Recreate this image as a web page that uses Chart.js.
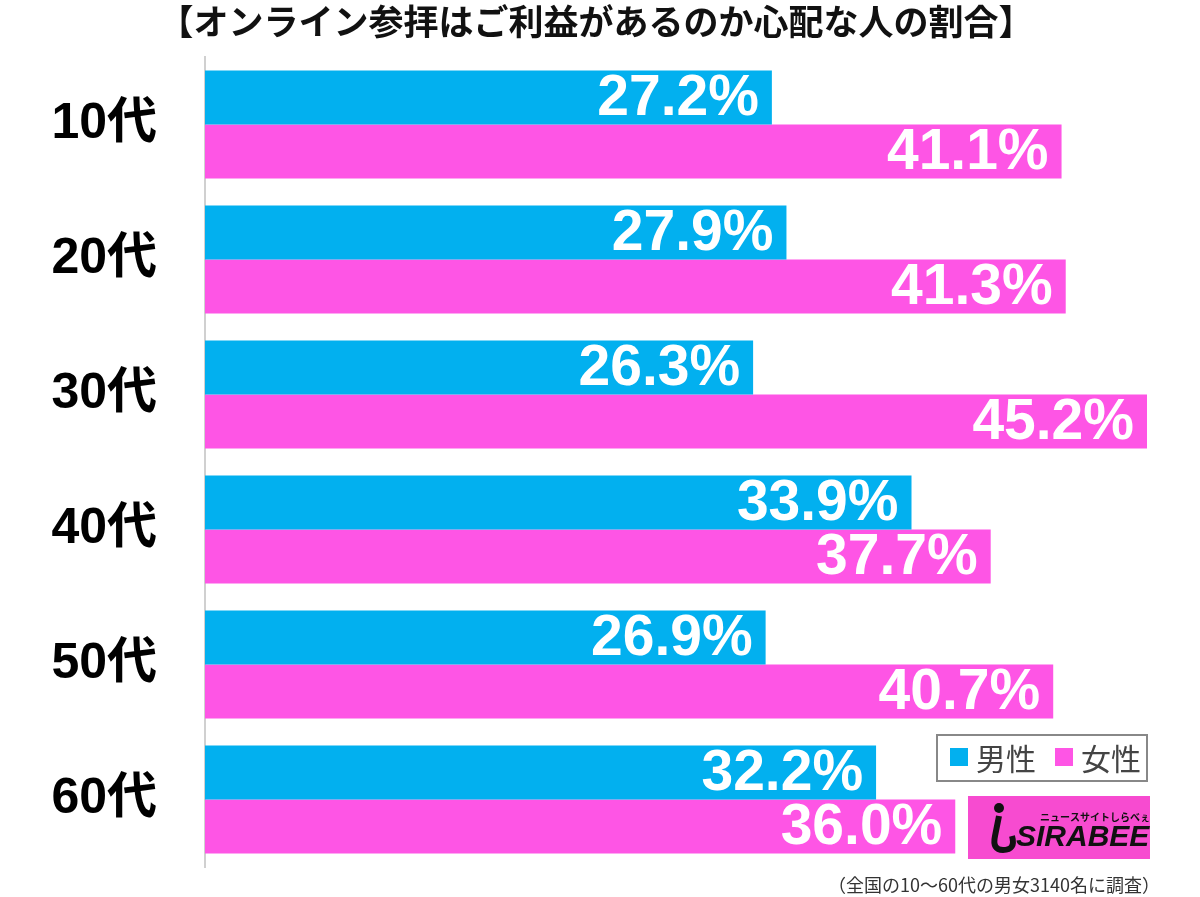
<!DOCTYPE html>
<html>
<head>
<meta charset="utf-8">
<script src="https://cdn.jsdelivr.net/npm/chart.js@4"></script>
<style>
  html, body { margin: 0; padding: 0; background: #fff; }
  #wrap { width: 1200px; height: 897px; position: relative; }
</style>
</head>
<body>
<div id="wrap"><canvas id="chart" width="1200" height="897"></canvas></div>
<script>
const categories = ['10代', '20代', '30代', '40代', '50代', '60代'];
const maleValues = [27.2, 27.9, 26.3, 33.9, 26.9, 32.2];
const femaleValues = [41.1, 41.3, 45.2, 37.7, 40.7, 36.0];
const seriesNames = ['男性', '女性'];
const titleText = '【オンライン参拝はご利益があるのか心配な人の割合】';
const noteText = '（全国の10〜60代の男女3140名に調査）';

const BLUE = '#02b0ef';
const PINK = '#fe55e5';
const JP = '"Noto Sans CJK JP", "Noto Sans", sans-serif';
const NUM = '"Liberation Sans", "Noto Sans CJK JP", sans-serif';

// 棒の上の数値と、タイトル・凡例・ロゴ・注記
const decorPlugin = {
  id: 'decor',
  afterDatasetsDraw(chart) {
    const ctx = chart.ctx;
    ctx.save();
    ctx.fillStyle = '#fff';
    ctx.font = 'bold 57px ' + NUM;
    ctx.textAlign = 'right';
    ctx.textBaseline = 'middle';
    chart.data.datasets.forEach((ds, i) => {
      chart.getDatasetMeta(i).data.forEach((bar, j) => {
        ctx.fillText(ds.data[j].toFixed(1) + '%', bar.x - 13, bar.y + 2);
      });
    });
    ctx.restore();
  },
  afterDraw(chart) {
    const ctx = chart.ctx;
    ctx.save();
    // タイトル
    ctx.fillStyle = '#111';
    ctx.font = 'bold 35px ' + JP;
    ctx.textAlign = 'center';
    ctx.textBaseline = 'middle';
    ctx.fillText(titleText, 596, 22);

    // 凡例
    ctx.strokeStyle = '#888';
    ctx.lineWidth = 2;
    ctx.strokeRect(937, 735, 210, 46);
    ctx.fillStyle = BLUE;
    ctx.fillRect(950, 748, 18, 18);
    ctx.fillStyle = PINK;
    ctx.fillRect(1055, 748, 18, 18);
    ctx.fillStyle = '#444';
    ctx.font = '30px ' + JP;
    ctx.textAlign = 'left';
    ctx.fillText(seriesNames[0], 976, 759);
    ctx.fillText(seriesNames[1], 1081, 759);

    // ロゴ
    ctx.fillStyle = '#f74bd0';
    ctx.fillRect(968, 796, 182, 63);
    ctx.fillStyle = '#111';
    ctx.beginPath();
    ctx.arc(999, 808, 5, 0, Math.PI * 2);
    ctx.fill();
    ctx.lineWidth = 6;
    ctx.strokeStyle = '#111';
    ctx.beginPath();
    ctx.moveTo(999, 816);
    ctx.lineTo(995, 836);
    ctx.quadraticCurveTo(992, 850, 1003, 850);
    ctx.quadraticCurveTo(1016, 850, 1012, 836);
    ctx.stroke();
    ctx.font = 'italic bold 30px ' + NUM;
    ctx.textAlign = 'left';
    ctx.fillText('SIRABEE', 1016, 838);
    ctx.font = 'bold 10px ' + JP;
    ctx.fillText('ニュースサイトしらべぇ', 1040, 817);

    // 注記
    ctx.fillStyle = '#333';
    ctx.font = '18px ' + JP;
    ctx.textAlign = 'right';
    ctx.fillText(noteText, 1160, 885);
    ctx.restore();
  }
};

new Chart(document.getElementById('chart'), {
  type: 'bar',
  data: {
    labels: categories,
    datasets: [
      { label: seriesNames[0], data: maleValues, backgroundColor: BLUE },
      { label: seriesNames[1], data: femaleValues, backgroundColor: PINK }
    ]
  },
  options: {
    indexAxis: 'y',
    responsive: false,
    animation: false,
    categoryPercentage: 0.8,
    barPercentage: 1.0,
    layout: { padding: { top: 57, bottom: 30, right: 53, left: 0 } },
    plugins: {
      legend: { display: false },
      title: { display: false },
      tooltip: { enabled: false }
    },
    scales: {
      x: { display: false, min: 0, max: 45.2 },
      y: {
        afterFit: (scale) => {
          scale.width = 205;
          scale.paddingTop = 0;
          scale.paddingBottom = 0;
        },
        grid: { display: false, drawTicks: false },
        border: { display: true, color: '#d0d0d0', width: 2 },
        ticks: {
          color: '#000',
          padding: 48,
          font: { family: NUM, weight: 'bold', size: 50 }
        }
      }
    }
  },
  plugins: [decorPlugin]
});
</script>
</body>
</html>
